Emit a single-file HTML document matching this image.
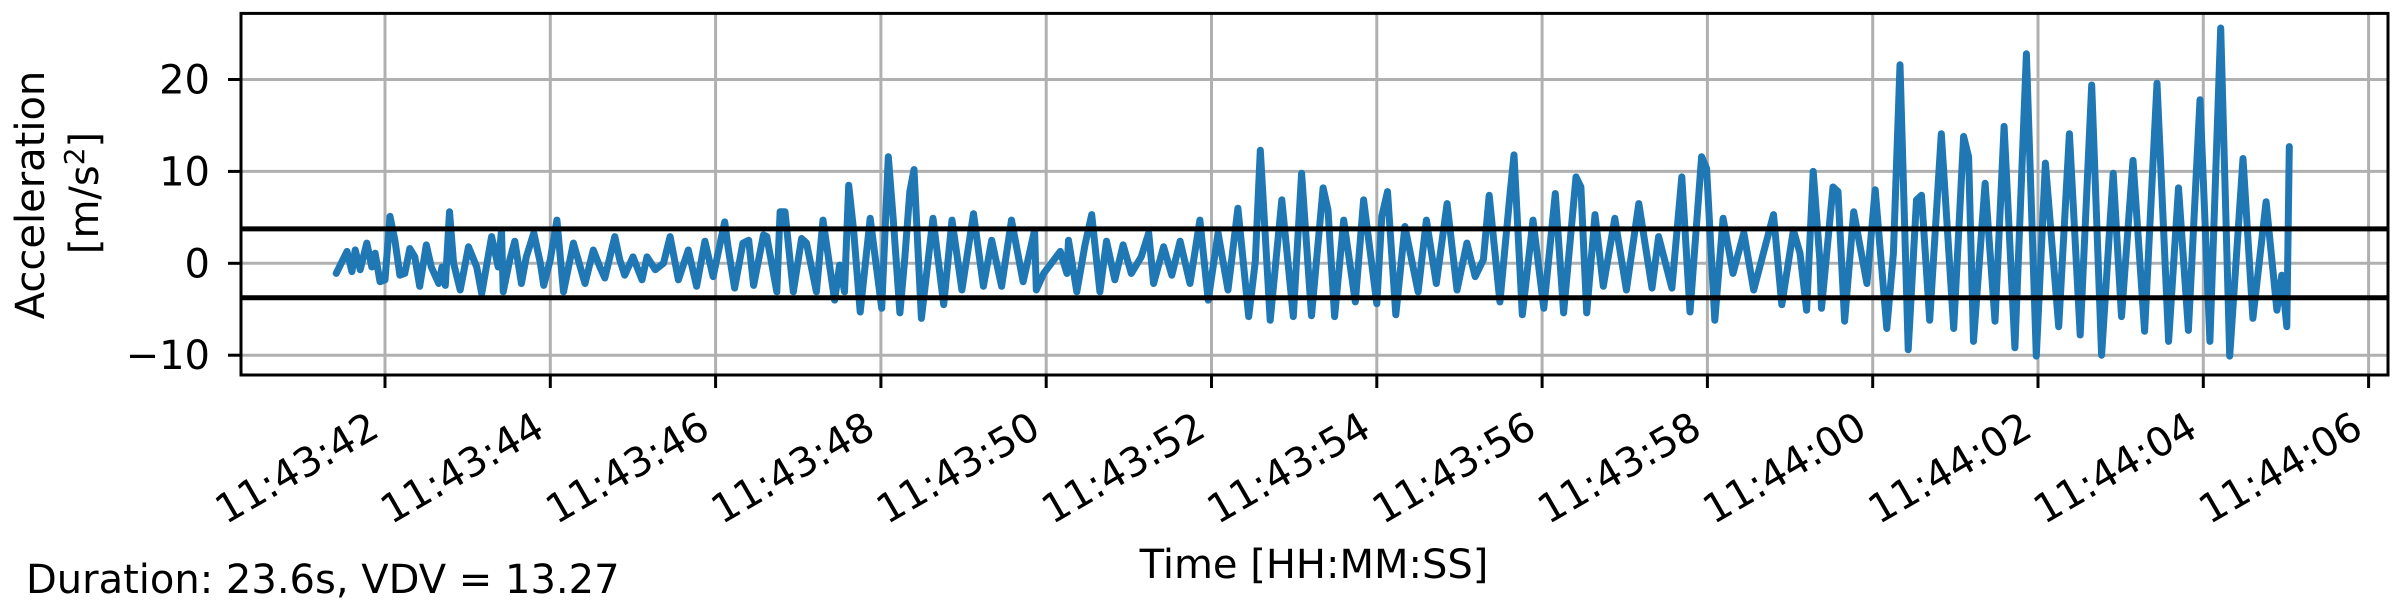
<!DOCTYPE html>
<html><head><meta charset="utf-8">
<style>
html,body{margin:0;padding:0;background:#fff;}
svg{display:block;}
text{font-family:"DejaVu Sans","Liberation Sans",sans-serif;fill:#000;}
</style></head>
<body>
<svg id="chart" width="2400" height="600" viewBox="0 0 2400 600" xmlns="http://www.w3.org/2000/svg">
<rect x="0" y="0" width="2400" height="600" fill="#fff"/>
<g id="grid"></g>
<g id="series"></g>
<rect x="241" y="13.4" width="2147" height="361.6" fill="none" stroke="#000" stroke-width="3"/>
<g id="ticks"></g>
<text x="1314" y="578" font-size="40" text-anchor="middle">Time [HH:MM:SS]</text>
<g>
<text transform="translate(44,195) rotate(-90)" font-size="40" text-anchor="middle">Acceleration</text>
<text transform="translate(98,193) rotate(-90)" font-size="40" text-anchor="middle">[m/s<tspan font-size="28" dy="-14">2</tspan><tspan dy="14">]</tspan></text>
</g>
<text x="26" y="593" font-size="40">Duration: 23.6s, VDV = 13.27</text>
</svg>
<script>
// seconds after 11:43:00
const times = [41.41,41.54,41.60,41.64,41.70,41.78,41.84,41.88,41.94,42.00,42.06,42.12,42.18,42.24,42.30,42.36,42.42,42.50,42.56,42.65,42.69,42.73,42.78,42.83,42.91,43.01,43.11,43.17,43.29,43.37,43.41,43.43,43.51,43.57,43.65,43.71,43.80,43.88,43.92,44.00,44.08,44.16,44.28,44.42,44.52,44.60,44.66,44.78,44.84,44.90,45.00,45.11,45.17,45.27,45.37,45.45,45.55,45.67,45.77,45.87,45.97,46.11,46.15,46.23,46.33,46.40,46.46,46.58,46.62,46.74,46.78,46.84,46.94,47.04,47.10,47.22,47.30,
47.44,47.50,47.56,47.61,47.67,47.75,47.87,48.01,48.09,48.15,48.23,48.29,48.35,48.40,48.49,48.63,48.76,48.86,48.98,49.12,49.24,49.34,49.46,49.58,49.72,49.86,49.88,49.97,50.17,50.25,50.27,50.37,50.47,50.55,50.65,50.73,50.83,50.93,51.03,51.15,51.24,51.30,51.42,51.52,51.62,51.74,51.86,51.96,52.08,52.20,52.32,52.45,52.53,52.59,52.71,52.85,52.99,53.09,53.21,
53.35,53.41,53.49,53.60,53.74,53.84,54.00,54.06,54.13,54.23,54.34,54.50,54.60,54.72,54.85,54.97,55.09,55.19,55.29,55.36,55.49,55.61,55.66,55.76,55.89,56.02,56.16,56.26,56.41,56.47,56.54,56.64,56.74,56.88,57.02,57.17,57.33,57.41,57.57,57.69,57.79,57.93,57.99,58.09,58.19,58.31,58.44,58.56,58.80,58.90,59.04,59.12,
59.20,59.28,59.36,59.38,59.52,59.58,59.66,59.77,59.93,60.03,60.17,60.25,60.33,60.43,60.53,60.59,60.69,60.83,60.98,61.10,61.16,61.22,61.36,61.48,61.59,61.72,61.86,61.98,62.09,62.25,62.38,62.51,62.65,62.77,62.91,63.01,63.15,63.29,63.44,63.58,63.70,63.82,63.96,64.08,64.21,64.32,64.48,64.60,64.76,64.89,64.95,65.01,65.04];
const accel = [-1.1,1.3,-0.9,1.45,-0.7,2.2,-0.4,1.1,-2.0,-1.8,5.1,2.5,-1.3,-1.1,1.6,0.7,-2.5,2.0,-0.4,-2.2,-0.4,-2.4,5.6,0,-2.9,1.8,-0.4,-3.3,2.9,-0.4,3.6,-3.1,0.4,2.4,-2.2,0.7,3.3,0,-2.4,0.4,4.7,-3.1,2.2,-2.2,1.45,-0.4,-1.6,2.9,0.4,-1.3,0.7,-1.8,0.7,-0.7,0,2.9,-1.8,1.45,-2.5,2.4,-1.45,4.5,1.8,-2.7,2.2,2.5,-2.4,3.1,2.9,-3.1,5.6,5.6,-3.1,2.7,2.2,-3.1,4.7,
-4.0,-0.2,-3.1,8.5,3.6,-5.3,4.9,-4.9,11.6,4.7,-5.4,0.7,7.8,10.2,-6.0,4.9,-4.5,4.7,-2.9,5.4,-2.5,2.5,-2.5,4.7,-2.0,3.6,-2.9,-1.1,1.3,-1.1,2.5,-3.1,2.0,5.3,-3.1,2.4,-1.8,2.0,-1.1,0.7,3.3,-2.2,1.8,-1.3,2.4,-2.2,4.7,-4.0,3.3,-2.9,6.0,-5.8,0.2,12.3,-6.2,6.9,-5.8,9.8,-5.7,
8.2,5.8,-5.8,4.7,-4.2,6.9,-4.4,5.1,7.8,-5.6,4.0,-3.1,4.7,-2.2,6.5,-2.9,2.2,-1.45,0.4,7.4,-4.2,7.4,11.8,-5.6,4.7,-4.9,7.6,-5.4,9.4,8.3,-5.4,5.3,-2.5,4.9,-2.9,6.5,-2.7,2.9,-2.7,9.4,-5.3,11.6,10.3,-6.2,4.9,-1.1,3.3,-2.9,5.3,-4.5,3.6,1.1,
-5.1,10.0,0.4,-4.9,8.3,7.8,-6.3,5.6,-2.2,8.0,-7.1,1.1,21.6,-9.4,6.9,7.4,-6.2,14.1,-7.1,13.8,11.6,-8.5,8.7,-6.3,14.9,-9.2,22.8,-10.1,10.9,-6.9,14.1,-7.8,19.4,-10.0,9.8,-5.8,11.2,-7.4,19.6,-8.5,8.2,-7.3,17.8,-8.5,25.6,-10.1,11.4,-6.0,6.7,-5.1,-1.3,-6.9,12.7];
const yTicks = [-10, 0, 10, 20];
const yTickLabels = ["\u221210", "0", "10", "20"];
const xTicks = [42, 44, 46, 48, 50, 52, 54, 56, 58, 60, 62, 64, 66];
const xTickLabels = ["11:43:42","11:43:44","11:43:46","11:43:48","11:43:50","11:43:52","11:43:54","11:43:56","11:43:58","11:44:00","11:44:02","11:44:04","11:44:06"];
const thresholds = [3.75, -3.75];

const NS = "http://www.w3.org/2000/svg";
const X0 = 241, X1 = 2388, Y0 = 13.4, Y1 = 375;
function xs(t){ return 385 + (t - 42) * 82.65; }
function ys(v){ return 263.3 - v * 9.19; }
function mk(tag, attrs, parent){ const e = document.createElementNS(NS, tag); for (const k in attrs) e.setAttribute(k, attrs[k]); parent.appendChild(e); return e; }

const grid = document.getElementById('grid');
const ticks = document.getElementById('ticks');
const series = document.getElementById('series');

xTicks.forEach((t, i) => {
  const x = xs(t);
  const g = mk('line', {x1:x, x2:x, y1:Y0, y2:Y1, stroke:'#b0b0b0', 'stroke-width':3}, grid);
  
  
  const tk = mk('line', {x1:x, x2:x, y1:Y1, y2:Y1+13, stroke:'#000', 'stroke-width':3}, ticks);
  
  
  const px = x - 18, py = 410;
  const lb = mk('text', {x:px, y:py, 'font-size':40, 'text-anchor':'end', 'dominant-baseline':'hanging', transform:'rotate(-30 '+px+' '+py+')'}, ticks);
  lb.textContent = xTickLabels[i];
  
  
});
yTicks.forEach((v, i) => {
  const y = ys(v);
  const g = mk('line', {x1:X0, x2:X1, y1:y, y2:y, stroke:'#b0b0b0', 'stroke-width':3}, grid);
  
  
  const tk = mk('line', {x1:X0-13, x2:X0, y1:y, y2:y, stroke:'#000', 'stroke-width':3}, ticks);
  
  
  const lb = mk('text', {x:210, y:y+14, 'font-size':40, 'text-anchor':'end'}, ticks);
  lb.textContent = yTickLabels[i];
  
  
});

let d = '';
times.forEach((t, i) => { d += (i ? 'L' : 'M') + xs(t).toFixed(1) + ' ' + ys(accel[i]).toFixed(1); });
const line = mk('path', {d:d, fill:'none', stroke:'#1f77b4', 'stroke-width':7, 'stroke-linejoin':'round', 'stroke-linecap':'round'}, series);



thresholds.forEach(v => {
  const l = mk('line', {x1:X0, x2:X1, y1:ys(v), y2:ys(v), stroke:'#000', 'stroke-width':5}, series);
  
  
});
</script>
</body></html>
